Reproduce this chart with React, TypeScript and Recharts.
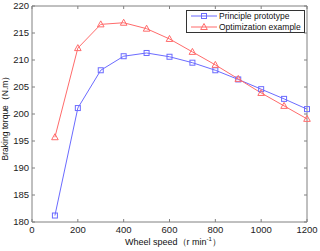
import React from 'react';
import { LineChart, Line, XAxis, YAxis, ReferenceLine } from 'recharts';

const speeds = [100, 200, 300, 400, 500, 600, 700, 800, 900, 1000, 1100, 1200];
const principle = [181.2, 201.1, 208.1, 210.7, 211.3, 210.6, 209.5, 208.1, 206.4, 204.6, 202.8, 200.9];
const optimization = [195.7, 212.2, 216.6, 216.9, 215.8, 213.9, 211.5, 209.1, 206.5, 203.9, 201.5, 199.1];
const xTicks = [0, 200, 400, 600, 800, 1000, 1200];
const yTicks = [180, 185, 190, 195, 200, 205, 210, 215, 220];
const seriesNames = ['Principle prototype', 'Optimization example'];

const data = speeds.map((s, i) => ({ speed: s, principle: principle[i], optimization: optimization[i] }));

const BLUE = '#6b6bff';
const RED = '#ff6b6b';
const AXIS = '#808080';
const FONT = '"Liberation Sans", Arial, sans-serif';

const PLOT_TOP = 6;
const PLOT_LEFT = 32;
const PLOT_RIGHT = 307;
const PLOT_BOTTOM = 222;
const TM = 4;

const XTick = (props: any) => {
  const { x, y, payload } = props;
  const axisY = y - TM;
  return (
    <g>
      <line x1={x} x2={x} y1={axisY} y2={axisY - 3} stroke={AXIS} />
      <line x1={x} x2={x} y1={PLOT_TOP} y2={PLOT_TOP + 3} stroke={AXIS} />
      <text x={x} y={y} dy="0.71em" textAnchor="middle" fontSize={9.5} fontFamily={FONT} fill="#222">
        {payload.value}
      </text>
    </g>
  );
};

const YTick = (props: any) => {
  const { x, y, payload } = props;
  const axisX = x + 3;
  return (
    <g>
      <line x1={axisX} x2={axisX + 3} y1={y} y2={y} stroke={AXIS} />
      <line x1={PLOT_RIGHT} x2={PLOT_RIGHT - 3} y1={y} y2={y} stroke={AXIS} />
      <text x={x} y={y} dy="0.355em" textAnchor="end" fontSize={9.5} fontFamily={FONT} fill="#222">
        {payload.value}
      </text>
    </g>
  );
};

const SquareDot = (props: any) => {
  const { cx, cy } = props;
  if (cx == null || cy == null) return null;
  return <rect x={cx - 2.5} y={cy - 2.5} width={5} height={5} fill="none" stroke={BLUE} strokeWidth={1} />;
};

const TriDot = (props: any) => {
  const { cx, cy } = props;
  if (cx == null || cy == null) return null;
  return (
    <polygon
      points={`${cx},${cy - 3.5} ${cx - 3.3},${cy + 2.5} ${cx + 3.3},${cy + 2.5}`}
      fill="none"
      stroke={RED}
      strokeWidth={1}
    />
  );
};

const LegendBox = () => (
  <svg width={120} height={24} style={{ position: 'absolute', left: 186, top: 10, display: 'block' }}>
    <rect x={0.5} y={0.5} width={118} height={22} fill="#fff" stroke="#333" strokeWidth={1} />
    <line x1={5} x2={31} y1={6} y2={6} stroke={BLUE} />
    <rect x={15.5} y={3.5} width={5} height={5} fill="none" stroke={BLUE} />
    <text x={33} y={6} dy="0.355em" fontSize={8.5} fontFamily={FONT} fill="#111">{seriesNames[0]}</text>
    <line x1={5} x2={31} y1={17} y2={17} stroke={RED} />
    <polygon points={`18,13.5 14.7,19.5 21.3,19.5`} fill="none" stroke={RED} />
    <text x={33} y={17} dy="0.355em" fontSize={8.5} fontFamily={FONT} fill="#111">{seriesNames[1]}</text>
  </svg>
);

export default function App() {
  return (
    <div style={{ position: 'absolute', left: 0, top: 0, width: 320, height: 251, background: '#fff' }}>
      <LineChart
        width={320}
        height={251}
        data={data}
        margin={{ top: PLOT_TOP, right: 320 - PLOT_RIGHT, bottom: 0, left: 0 }}
      >
        <XAxis
          dataKey="speed"
          type="number"
          domain={[0, 1200]}
          ticks={xTicks}
          tickLine={false}
          tickSize={0}
          tickMargin={TM}
          tick={<XTick />}
          axisLine={{ stroke: AXIS }}
          height={251 - PLOT_BOTTOM}
          interval={0}
        />
        <YAxis
          type="number"
          domain={[180, 220]}
          ticks={yTicks}
          tickLine={false}
          tickSize={0}
          tickMargin={3}
          tick={<YTick />}
          axisLine={{ stroke: AXIS }}
          width={PLOT_LEFT}
          interval={0}
        />
        <ReferenceLine y={220} stroke={AXIS} />
        <ReferenceLine x={1200} stroke={AXIS} />
        <Line
          dataKey="principle"
          name={seriesNames[0]}
          stroke={BLUE}
          strokeWidth={1}
          dot={<SquareDot />}
          isAnimationActive={false}
        />
        <Line
          dataKey="optimization"
          name={seriesNames[1]}
          stroke={RED}
          strokeWidth={1}
          dot={<TriDot />}
          isAnimationActive={false}
        />
      </LineChart>
      <LegendBox />
      <div
        style={{
          position: 'absolute',
          left: 173,
          top: 242,
          transform: 'translate(-50%, -50%)',
          fontFamily: FONT,
          fontSize: 9,
          whiteSpace: 'nowrap',
          color: '#111',
        }}
      >
        Wheel speed（r min<sup style={{ fontSize: 6 }}>-1</sup>）
      </div>
      <div
        style={{
          position: 'absolute',
          left: 6,
          top: 116,
          transform: 'translate(-50%, -50%) rotate(-90deg)',
          fontFamily: FONT,
          fontSize: 8.5,
          whiteSpace: 'nowrap',
          color: '#111',
        }}
      >
        Braking torque（N.m）
      </div>
    </div>
  );
}
